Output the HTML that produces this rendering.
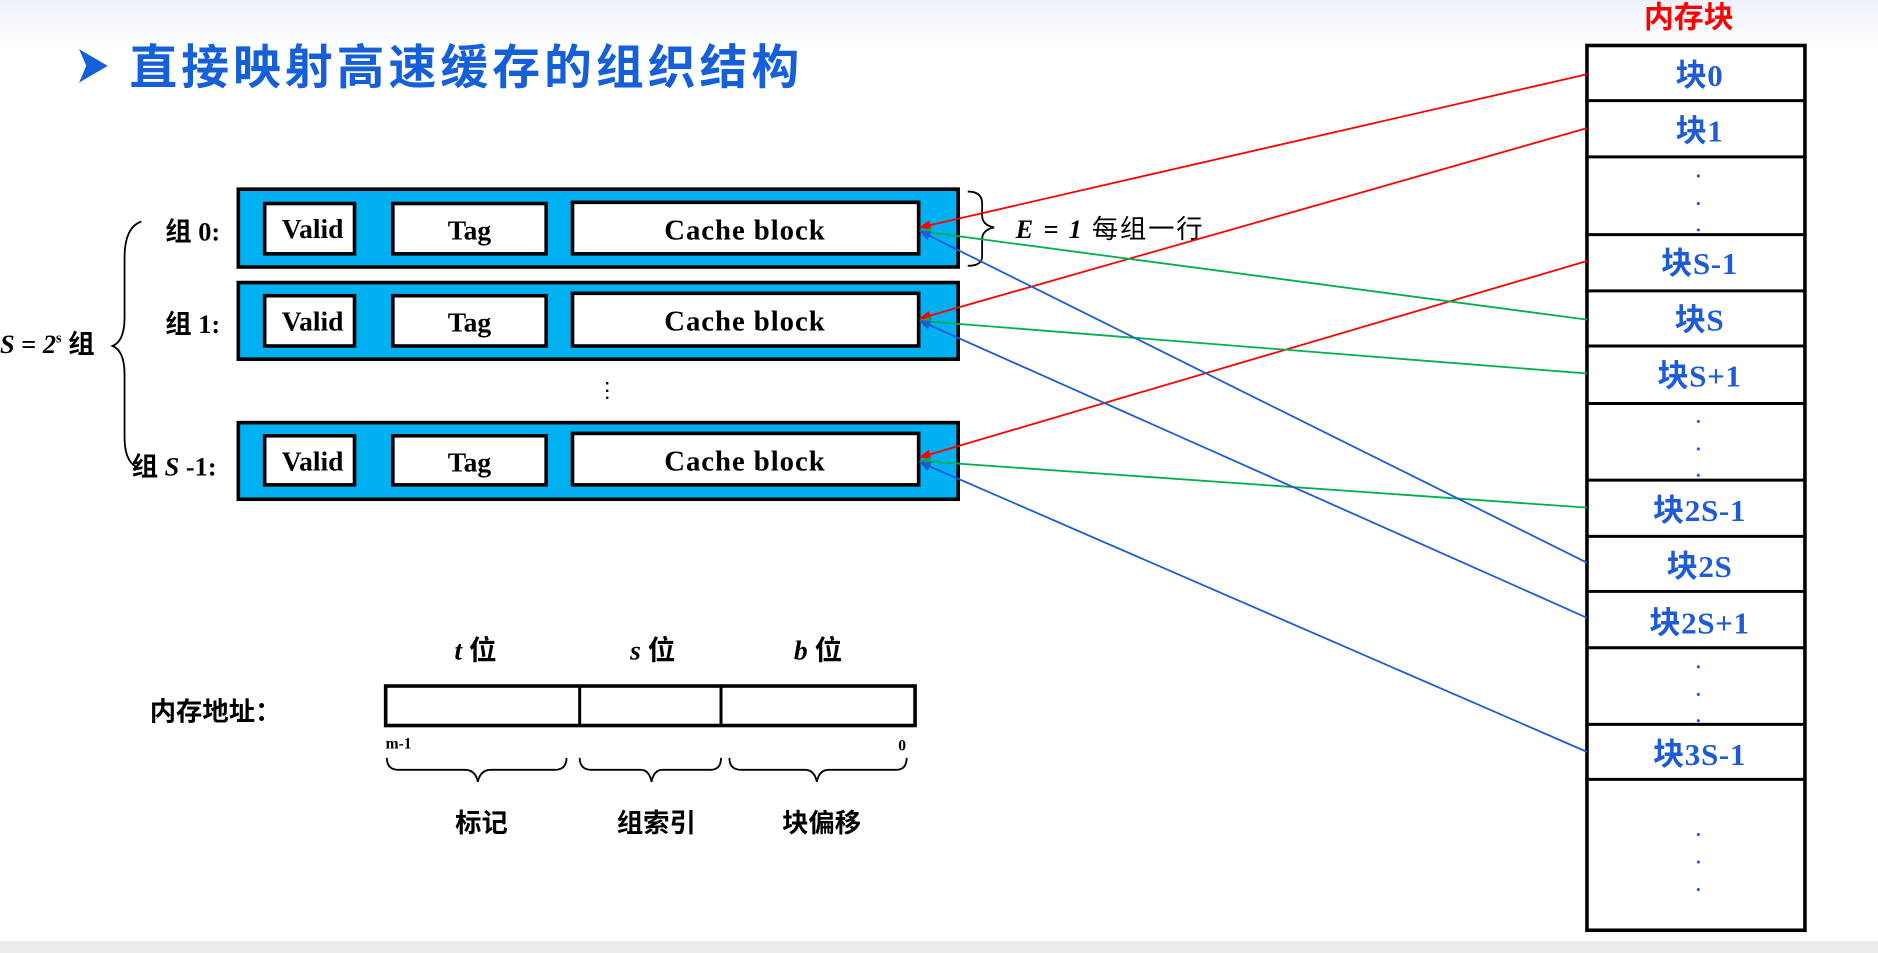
<!DOCTYPE html>
<html><head><meta charset="utf-8"><style>
html,body{margin:0;padding:0;width:1878px;height:953px;overflow:hidden;background:#fff}
svg{display:block}
</style></head><body>
<svg width="1878" height="953" viewBox="0 0 1568 796" preserveAspectRatio="none" xmlns="http://www.w3.org/2000/svg">
<defs>
<linearGradient id="tg" x1="0" y1="0" x2="0" y2="1"><stop offset="0" stop-color="#eef2f8"/><stop offset="1" stop-color="#ffffff"/></linearGradient>
<marker id="ar" markerWidth="10" markerHeight="8" refX="9" refY="4" orient="auto" markerUnits="userSpaceOnUse"><path d="M0,0 L10,4 L0,8 z" fill="#ff0000"/></marker>
<marker id="ag" markerWidth="10" markerHeight="8" refX="9" refY="4" orient="auto" markerUnits="userSpaceOnUse"><path d="M0,0 L10,4 L0,8 z" fill="#00b050"/></marker>
<marker id="ab" markerWidth="10" markerHeight="8" refX="9" refY="4" orient="auto" markerUnits="userSpaceOnUse"><path d="M0,0 L10,4 L0,8 z" fill="#1f5bd6"/></marker>
</defs>
<rect x="0" y="0" width="1568" height="40" fill="url(#tg)"/>
<rect x="0" y="786" width="1568" height="10" fill="#ececec"/>
<!-- title -->
<path d="M66,41 L90,55 L66,69 L72,55 z" fill="#1560d8"/>
<text x="108" y="70" font-family="'Liberation Sans','Noto Sans CJK SC',sans-serif" font-size="40" font-weight="bold" letter-spacing="3.3" fill="#1560d8">直接映射高速缓存的组织结构</text>

<g font-family="'Liberation Serif','Noto Serif CJK SC',serif" font-weight="bold" text-anchor="middle">
<g stroke="#000" stroke-width="3">
<rect x="199" y="158" width="601" height="65" fill="#00b0f0"/>
<rect x="199" y="236" width="601" height="64" fill="#00b0f0"/>
<rect x="199" y="353" width="601" height="64" fill="#00b0f0"/>
<g fill="#fff">
<rect x="221" y="170" width="75" height="42"/><rect x="328" y="170" width="128" height="42"/><rect x="478" y="169" width="289" height="43"/>
<rect x="221" y="247" width="75" height="42"/><rect x="328" y="247" width="128" height="42"/><rect x="478" y="245" width="289" height="44"/>
<rect x="221" y="364" width="75" height="41"/><rect x="328" y="364" width="128" height="41"/><rect x="478" y="362" width="289" height="43"/>
</g></g>
<g font-size="23">
<text x="261" y="199">Valid</text><text x="392" y="200">Tag</text>
<text x="261" y="276">Valid</text><text x="392" y="277">Tag</text>
<text x="261" y="393">Valid</text><text x="392" y="394">Tag</text>
</g>
<g font-size="24" letter-spacing="0.8">
<text x="622" y="200">Cache block</text><text x="622" y="276">Cache block</text><text x="622" y="393">Cache block</text>
</g>
</g>
<g font-family="'Liberation Serif','Noto Sans CJK SC',serif" font-size="22" fill="#000" font-weight="bold">
<text x="138" y="201">组 0:</text>
<text x="138" y="278">组 1:</text>
<text x="110" y="397">组 <tspan font-style="italic">S</tspan> -1:</text>
<text x="0" y="295"><tspan font-style="italic">S</tspan> = <tspan font-style="italic">2</tspan><tspan font-size="12" dy="-9">s</tspan><tspan dy="9"> 组</tspan></text>
<text x="848" y="199" font-weight="normal" letter-spacing="1.5"><tspan font-style="italic" font-weight="bold">E = 1</tspan>  每组一行</text>
<text x="498" y="332" font-size="18" font-weight="normal">⋮</text>
</g>
<!-- braces -->
<path d="M118,185 Q104,190 104,215 L104,265 Q104,285 94,289 Q104,293 104,313 L104,365 Q104,385 114,390" fill="none" stroke="#000" stroke-width="1.5"/>
<path d="M808,160 Q820,160 820,170 L820,180 Q820,188 830,190 Q820,192 820,200 L820,214 Q820,222 808,222" fill="none" stroke="#000" stroke-width="1.5"/>

<!-- memory column -->
<text x="1410" y="23" font-family="'Liberation Sans','Noto Sans CJK SC',sans-serif" font-size="25" font-weight="bold" fill="#ff0000" text-anchor="middle">内存块</text>
<rect x="1325" y="38" width="182" height="739" fill="#fff" stroke="#000" stroke-width="3"/>
<g stroke="#000" stroke-width="2.5">
<line x1="1325" y1="84" x2="1507" y2="84"/><line x1="1325" y1="131" x2="1507" y2="131"/>
<line x1="1325" y1="196" x2="1507" y2="196"/><line x1="1325" y1="243" x2="1507" y2="243"/>
<line x1="1325" y1="289" x2="1507" y2="289"/><line x1="1325" y1="337" x2="1507" y2="337"/>
<line x1="1325" y1="401" x2="1507" y2="401"/><line x1="1325" y1="448" x2="1507" y2="448"/>
<line x1="1325" y1="494" x2="1507" y2="494"/><line x1="1325" y1="541" x2="1507" y2="541"/>
<line x1="1325" y1="605" x2="1507" y2="605"/><line x1="1325" y1="651" x2="1507" y2="651"/>
</g>
<g font-family="'Liberation Serif','Noto Sans CJK SC',serif" font-size="26" font-weight="bold" fill="#1f5bd6" text-anchor="middle" letter-spacing="0.5">
<text x="1419" y="72">块0</text><text x="1419" y="118">块1</text>
<text x="1419" y="229">块S-1</text><text x="1419" y="276">块S</text><text x="1419" y="323">块S+1</text>
<text x="1419" y="435">块2S-1</text><text x="1419" y="482">块2S</text><text x="1419" y="529">块2S+1</text>
<text x="1419" y="639">块3S-1</text>
</g>
<g fill="#1f5bd6">
<circle cx="1418" cy="147" r="1.3"/><circle cx="1418" cy="170" r="1.3"/><circle cx="1418" cy="192" r="1.3"/>
<circle cx="1418" cy="352" r="1.3"/><circle cx="1418" cy="375" r="1.3"/><circle cx="1418" cy="397" r="1.3"/>
<circle cx="1418" cy="557" r="1.3"/><circle cx="1418" cy="580" r="1.3"/><circle cx="1418" cy="602" r="1.3"/>
<circle cx="1418" cy="697" r="1.3"/><circle cx="1418" cy="720" r="1.3"/><circle cx="1418" cy="743" r="1.3"/>
</g>
<!-- arrows -->
<g stroke-width="1.5" fill="none">
<line x1="1325" y1="62" x2="768" y2="190" stroke="#ff0000" marker-end="url(#ar)"/>
<line x1="1325" y1="107" x2="768" y2="266" stroke="#ff0000" marker-end="url(#ar)"/>
<line x1="1325" y1="218" x2="768" y2="382" stroke="#ff0000" marker-end="url(#ar)"/>
<line x1="1325" y1="267" x2="768" y2="193" stroke="#00b050" marker-end="url(#ag)"/>
<line x1="1325" y1="312" x2="768" y2="268" stroke="#00b050" marker-end="url(#ag)"/>
<line x1="1325" y1="424" x2="768" y2="385" stroke="#00b050" marker-end="url(#ag)"/>
<line x1="1325" y1="470" x2="768" y2="193" stroke="#1f5bd6" marker-end="url(#ab)"/>
<line x1="1325" y1="516" x2="768" y2="268" stroke="#1f5bd6" marker-end="url(#ab)"/>
<line x1="1325" y1="628" x2="768" y2="386" stroke="#1f5bd6" marker-end="url(#ab)"/>
</g>

<!-- address -->
<g font-family="'Liberation Serif','Noto Sans CJK SC',serif" fill="#000">
<text x="125" y="602" font-family="'Liberation Sans','Noto Sans CJK SC',sans-serif" font-size="22" font-weight="bold">内存地址：</text>
<text x="397" y="551" font-size="23" text-anchor="middle" font-weight="bold"><tspan font-style="italic">t</tspan> 位</text>
<text x="545" y="551" font-size="23" text-anchor="middle" font-weight="bold"><tspan font-style="italic">s</tspan> 位</text>
<text x="683" y="551" font-size="23" text-anchor="middle" font-weight="bold"><tspan font-style="italic">b</tspan> 位</text>
<text x="322" y="625" font-size="13" font-weight="bold">m-1</text>
<text x="750" y="627" font-size="13" font-weight="bold">0</text>
<g font-family="'Liberation Sans','Noto Sans CJK SC',sans-serif" font-size="22" text-anchor="middle" font-weight="bold">
<text x="402" y="695">标记</text><text x="548" y="695">组索引</text><text x="686" y="695">块偏移</text>
</g>
</g>
<rect x="322" y="573" width="442" height="33" fill="#fff" stroke="#000" stroke-width="3"/>
<line x1="484" y1="573" x2="484" y2="606" stroke="#000" stroke-width="2.5"/>
<line x1="602" y1="573" x2="602" y2="606" stroke="#000" stroke-width="2.5"/>
<g fill="none" stroke="#000" stroke-width="1.5">
<path d="M323,633 Q323,643 333,643 L388,643 Q397,643 399,653 Q401,643 410,643 L463,643 Q473,643 473,633"/>
<path d="M484,633 Q484,643 494,643 L535,643 Q542,643 544,653 Q546,643 553,643 L593,643 Q602,643 602,633"/>
<path d="M609,633 Q609,643 619,643 L672,643 Q680,643 682,653 Q684,643 692,643 L748,643 Q757,643 757,633"/>
</g>
</svg>
</body></html>
